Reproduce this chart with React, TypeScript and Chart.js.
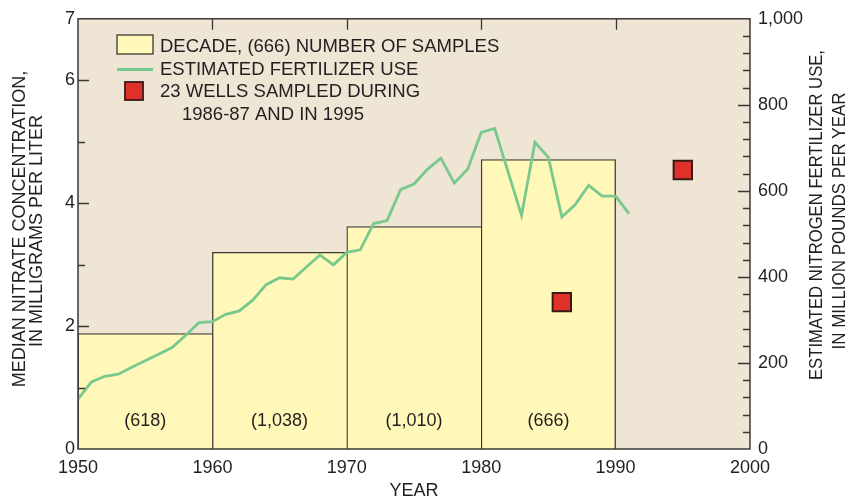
import React, { useEffect, useRef } from 'react';
import { Chart, registerables } from 'chart.js';

Chart.register(...registerables);

// ---- data ----
const decadeStarts = [1950, 1960, 1970, 1980];
const decadeMedians = [1.88, 3.2, 3.62, 4.71];
const decadeSamples = ['(618)', '(1,038)', '(1,010)', '(666)'];

const fertYears = [
  1950, 1951, 1952, 1953, 1954, 1955, 1956, 1957, 1958, 1959,
  1960, 1961, 1962, 1963, 1964, 1965, 1966, 1967, 1968, 1969,
  1970, 1971, 1972, 1973, 1974, 1975, 1976, 1977, 1978, 1979,
  1980, 1981, 1982, 1983, 1984, 1985, 1986, 1987, 1988, 1989,
  1990, 1991,
];
const fertUse = [
  116, 156, 169, 174, 190, 205, 220, 236, 264, 294,
  296, 313, 321, 346, 382, 398, 395, 423, 451, 428,
  457, 463, 524, 531, 603, 616, 650, 676, 618, 651,
  736, 745, 644, 543, 713, 678, 539, 568, 613, 588,
  588, 547,
];

const wellYears = [1986, 1995];
const wellMedians = [2.39, 4.54];

const xTickLabels = [1950, 1960, 1970, 1980, 1990, 2000];
const leftTickLabels = [0, 2, 4, 6, 7];
const rightTickLabels = [0, 200, 400, 600, 800, 1000];
const leftMinorTicks = [1, 3, 5];
const leftMajorTicks = [2, 4, 6];
const rightTickStep = 40;
const topTicks = [1960, 1970, 1980, 1990];

const TEXT = '#231F20';
const FONT = '"Liberation Sans", Arial, Helvetica, sans-serif';
const BEIGE = '#EEE5D4';
const YELLOW = '#FFF8B8';
const GREEN = '#79C88C';
const RED = '#E0302A';
const DARK = '#3C3733';

const decor = {
  id: 'decor',
  beforeDraw(chart: any) {
    const { ctx, chartArea: a } = chart;
    ctx.save();
    ctx.fillStyle = BEIGE;
    ctx.fillRect(a.left, a.top, a.right - a.left, a.bottom - a.top);
    ctx.restore();
  },
  afterDatasetsDraw(chart: any) {
    const { ctx, chartArea: a } = chart;
    const xs = chart.scales.x;
    ctx.save();
    ctx.fillStyle = TEXT;
    ctx.font = `18px ${FONT}`;
    ctx.textAlign = 'center';
    ctx.textBaseline = 'middle';
    decadeStarts.forEach((s, i) => {
      ctx.fillText(decadeSamples[i], xs.getPixelForValue(s + 5), a.bottom - 28);
    });
    ctx.restore();
  },
  afterDraw(chart: any) {
    const { ctx, chartArea: a } = chart;
    const xs = chart.scales.x;
    const yl = chart.scales.y;
    const yr = chart.scales.y1;
    ctx.save();
    // frame
    ctx.strokeStyle = DARK;
    ctx.lineWidth = 1.5;
    ctx.strokeRect(a.left, a.top, a.right - a.left, a.bottom - a.top);
    // ticks
    ctx.lineWidth = 1.3;
    ctx.beginPath();
    leftMajorTicks.forEach((v) => {
      const y = Math.round(yl.getPixelForValue(v)) + 0.5;
      ctx.moveTo(a.left, y); ctx.lineTo(a.left + 11, y);
    });
    leftMinorTicks.forEach((v) => {
      const y = Math.round(yl.getPixelForValue(v)) + 0.5;
      ctx.moveTo(a.left, y); ctx.lineTo(a.left + 7, y);
    });
    for (let v = rightTickStep; v < 1000; v += rightTickStep) {
      const y = Math.round(yr.getPixelForValue(v)) + 0.5;
      const len = v % 200 === 0 ? 12 : 7;
      ctx.moveTo(a.right, y); ctx.lineTo(a.right - len, y);
    }
    topTicks.forEach((v) => {
      const x = Math.round(xs.getPixelForValue(v)) + 0.5;
      ctx.moveTo(x, a.top); ctx.lineTo(x, a.top + 11);
    });
    ctx.stroke();

    // axis titles
    ctx.fillStyle = TEXT;
    ctx.font = `18px ${FONT}`;
    ctx.textAlign = 'center';
    ctx.textBaseline = 'middle';
    ctx.fillText('YEAR', (a.left + a.right) / 2, 491);

    ctx.save();
    ctx.translate(20, 229);
    ctx.rotate(-Math.PI / 2);
    ctx.fillText('MEDIAN NITRATE CONCENTRATION,', 0, 0);
    ctx.restore();
    ctx.save();
    ctx.translate(37, 231);
    ctx.rotate(-Math.PI / 2);
    ctx.fillText('IN MILLIGRAMS PER LITER', 0, 0);
    ctx.restore();

    ctx.save();
    ctx.translate(817, 215);
    ctx.rotate(-Math.PI / 2);
    ctx.fillText('ESTIMATED NITROGEN FERTILIZER USE,', 0, 0, 330);
    ctx.restore();
    ctx.save();
    ctx.translate(840, 221);
    ctx.rotate(-Math.PI / 2);
    ctx.fillText('IN MILLION POUNDS PER YEAR', 0, 0, 257);
    ctx.restore();

    // legend
    ctx.fillStyle = YELLOW;
    ctx.fillRect(117, 35, 36, 19);
    ctx.strokeStyle = DARK;
    ctx.lineWidth = 1.3;
    ctx.strokeRect(117, 35, 36, 19);
    ctx.strokeStyle = GREEN;
    ctx.lineWidth = 3;
    ctx.beginPath();
    ctx.moveTo(117, 69.5); ctx.lineTo(153, 69.5);
    ctx.stroke();
    ctx.fillStyle = RED;
    ctx.fillRect(125, 82, 18, 18);
    ctx.strokeStyle = '#3A1A16';
    ctx.lineWidth = 1.8;
    ctx.strokeRect(125, 82, 18, 18);

    ctx.fillStyle = TEXT;
    ctx.font = `18.5px ${FONT}`;
    ctx.textAlign = 'left';
    ctx.fillText('DECADE, (666) NUMBER OF SAMPLES', 160, 47);
    ctx.fillText('ESTIMATED FERTILIZER USE', 160, 70);
    ctx.fillText('23 WELLS SAMPLED DURING', 160, 92);
    ctx.fillText('1986-87 AND IN 1995', 182, 114.5);
    ctx.restore();
  },
};

export default function App() {
  const ref = useRef<HTMLCanvasElement>(null);

  useEffect(() => {
    if (!ref.current) return;
    const lastBar = decadeStarts.length - 1;
    const chart = new Chart(ref.current, {
      type: 'bar',
      data: {
        datasets: [
          {
            type: 'line',
            label: 'wells',
            data: wellYears.map((x, i) => ({ x, y: wellMedians[i] })),
            yAxisID: 'y',
            showLine: false,
            pointStyle: 'rect',
            pointRadius: 13,
            pointBackgroundColor: RED,
            pointBorderColor: '#3A1A16',
            pointBorderWidth: 2,
            order: 0,
          } as any,
          {
            type: 'line',
            label: 'fertilizer',
            data: fertYears.map((x, i) => ({ x, y: fertUse[i] })),
            yAxisID: 'y1',
            borderColor: GREEN,
            borderWidth: 2.8,
            pointRadius: 0,
            tension: 0,
            fill: false,
            order: 1,
          } as any,
          {
            type: 'bar',
            label: 'decade',
            data: decadeStarts.map((s, i) => ({ x: s + 5, y: decadeMedians[i] })),
            yAxisID: 'y',
            backgroundColor: YELLOW,
            borderColor: DARK,
            borderWidth: (c: any) => ({
              top: 1.3,
              left: 1.3,
              right: c.dataIndex === lastBar ? 1.3 : 0,
              bottom: 0,
            }),
            borderSkipped: false,
            categoryPercentage: 1,
            barPercentage: 1,
            order: 2,
          } as any,
        ],
      },
      options: {
        responsive: false,
        animation: false,
        events: [],
        layout: { padding: { top: 18, left: 0, right: 0, bottom: 0 } },
        plugins: {
          legend: { display: false },
          tooltip: { enabled: false },
          title: { display: false },
        },
        scales: {
          x: {
            type: 'linear',
            min: 1950,
            max: 2000,
            offset: false,
            grid: { display: false, drawTicks: false },
            border: { display: false },
            afterBuildTicks: (s: any) => {
              s.ticks = xTickLabels.map((v) => ({ value: v }));
            },
            afterFit: (s: any) => {
              s.height = 53;
            },
            ticks: {
              padding: 8,
              maxRotation: 0,
              autoSkip: false,
              color: TEXT,
              font: { family: FONT, size: 18 },
              callback: (v: any) => String(v),
            },
          },
          y: {
            type: 'linear',
            position: 'left',
            min: 0,
            max: 7,
            grid: { display: false, drawTicks: false },
            border: { display: false },
            afterBuildTicks: (s: any) => {
              s.ticks = leftTickLabels.map((v) => ({ value: v }));
            },
            afterFit: (s: any) => {
              s.width = 78;
            },
            ticks: {
              padding: 3,
              autoSkip: false,
              color: TEXT,
              font: { family: FONT, size: 18 },
              callback: (v: any) => String(v),
            },
          },
          y1: {
            type: 'linear',
            position: 'right',
            min: 0,
            max: 1000,
            grid: { display: false, drawTicks: false },
            border: { display: false },
            afterBuildTicks: (s: any) => {
              s.ticks = rightTickLabels.map((v) => ({ value: v }));
            },
            afterFit: (s: any) => {
              s.width = 107;
            },
            ticks: {
              padding: 8,
              autoSkip: false,
              color: TEXT,
              font: { family: FONT, size: 18 },
              callback: (v: any) => Number(v).toLocaleString('en-US'),
            },
          },
        },
      } as any,
      plugins: [decor],
    });
    return () => chart.destroy();
  }, []);

  return (
    <div style={{ position: 'fixed', left: 0, top: 0, width: 857, height: 502, background: '#fff' }}>
      <canvas ref={ref} width={857} height={502} style={{ display: 'block', width: 857, height: 502 }} />
    </div>
  );
}
